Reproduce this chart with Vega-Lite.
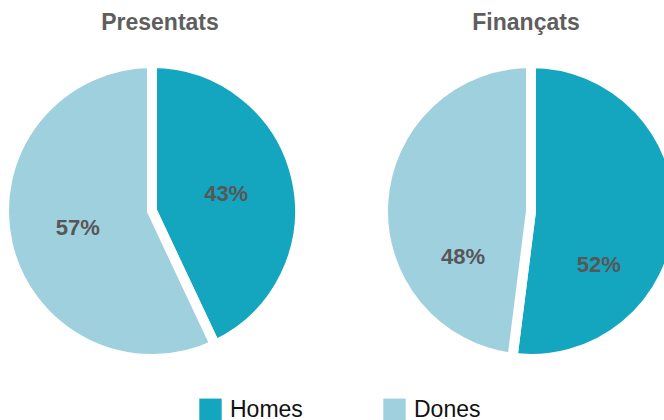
{
  "$schema": "https://vega.github.io/schema/vega-lite/v6.json",
  "background": "white",
  "padding": {"left": -16, "top": 12, "right": 0, "bottom": 0},
  "data": {"values": [
    {"grup": "Presentats", "sexe": "Homes", "pct": 0.43},
    {"grup": "Presentats", "sexe": "Dones", "pct": 0.57},
    {"grup": "Finançats", "sexe": "Homes", "pct": 0.52},
    {"grup": "Finançats", "sexe": "Dones", "pct": 0.48}
  ]},
  "config": {
    "view": {"stroke": null},
    "font": "Liberation Sans",
    "title": {"fontSize": 23, "fontWeight": "bold", "color": "#5e5e5e", "font": "Liberation Sans", "offset": 8},
    "legend": {"labelFont": "Liberation Sans"}
  },
  "spacing": 43,
  "resolve": {"scale": {"color": "shared"}},
  "hconcat": [
    {
      "title": {"text": "Presentats", "dx": 8},
      "width": 296,
      "height": 296,
      "transform": [{"filter": "datum.grup === 'Presentats'"}],
      "encoding": {
        "theta": {"field": "pct", "type": "quantitative", "stack": true},
        "order": {"field": "sexe", "sort": "descending"},
        "color": {
          "field": "sexe", "type": "nominal",
          "scale": {"domain": ["Homes", "Dones"], "range": ["#15a6bf", "#9fd0de"]},
          "legend": {"title": null, "orient": "none", "legendX": 195, "legendY": 335, "direction": "horizontal", "symbolType": "square", "symbolSize": 500, "symbolStrokeWidth": 0, "labelFontSize": 23, "labelColor": "#111111", "columnPadding": 80, "labelOffset": 8}
        }
      },
      "layer": [
        {"mark": {"type": "arc", "stroke": "white", "strokeWidth": 10}},
        {"mark": {"type": "text", "radius": 76, "fontSize": 22, "fontWeight": "bold"},
         "encoding": {"text": {"field": "pct", "type": "quantitative", "format": ".0%"}, "color": {"value": "#575757"}}}
      ]
    },
    {
      "title": {"text": "Finançats", "dx": -5},
      "width": 296,
      "height": 296,
      "transform": [{"filter": "datum.grup === 'Finançats'"}],
      "encoding": {
        "theta": {"field": "pct", "type": "quantitative", "stack": true},
        "order": {"field": "sexe", "sort": "descending"},
        "color": {"field": "sexe", "type": "nominal", "scale": {"domain": ["Homes", "Dones"], "range": ["#15a6bf", "#9fd0de"]}}
      },
      "layer": [
        {"mark": {"type": "arc", "stroke": "white", "strokeWidth": 10}},
        {"mark": {"type": "text", "radius": 68, "dy": 50, "fontSize": 22, "fontWeight": "bold"},
         "encoding": {"text": {"field": "pct", "type": "quantitative", "format": ".0%"}, "color": {"value": "#575757"}}}
      ]
    }
  ]
}
